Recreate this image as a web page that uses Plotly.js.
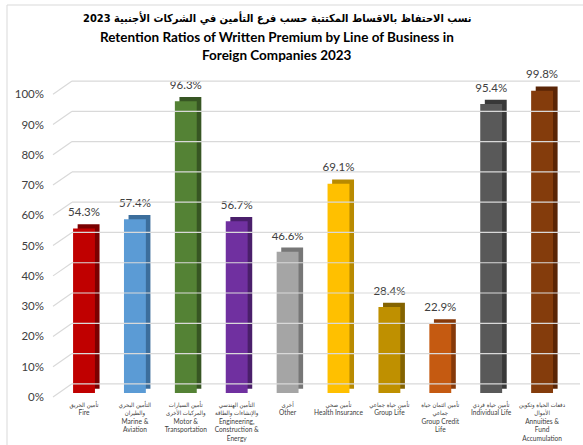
<!DOCTYPE html>
<html>
<head>
<meta charset="utf-8">
<script src="https://cdn.plot.ly/plotly-3.0.1.min.js"></script>
<style>
html,body{margin:0;padding:0;background:#fff;}
#chart{width:583px;height:445px;}
</style>
</head>
<body>
<div id="chart"></div>
<script>
// ---- data ----
const arabicNames = [
  "تأمين الحريق",
  "التأمين البحري<br>والطيران",
  "تأمين السيارات<br>والمركبات الأخرى",
  "التأمين الهندسي<br>والإنشاءات والطاقة",
  "أخرى",
  "تأمين صحي",
  "تأمين حياة جماعي",
  "تأمين ائتمان حياة<br>جماعي",
  "تأمين حياة فردي",
  "دفعات الحياة وتكوين<br>الأموال"
];
const englishNames = [
  "Fire",
  "Marine &<br>Aviation",
  "Motor &<br>Transportation",
  "Engineering,<br>Construction &<br>Energy",
  "Other",
  "Health Insurance",
  "Group Life",
  "Group Credit<br>Life",
  "Individual Life",
  "Annuities &<br>Fund<br>Accumulation"
];
const values = [54.3, 57.4, 96.3, 56.7, 46.6, 69.1, 28.4, 22.9, 95.4, 99.8];
const yTicks = [0, 10, 20, 30, 40, 50, 60, 70, 80, 90, 100];
const titleArabic = "نسب الاحتفاظ بالاقساط المكتتبة حسب فرع التأمين في الشركات الأجنبية 2023";
const titleEnglish1 = "Retention Ratios of Written Premium by Line of Business in";
const titleEnglish2 = "Foreign Companies 2023";

// ---- styles ----
const frontColors = ['#C00000','#5B9BD5','#548235','#7030A0','#A5A5A5','#FFC000','#BF9000','#C55A11','#595959','#843C0C'];
const sideColors  = ['#7A0000','#3C6E9C','#375623','#4A1F6B','#777777','#B88A00','#846300','#86390A','#383838','#5A2506'];

const arabicSpan = s => s.split('<br>').map(t =>
  '<span style="font-family:\'DejaVu Sans Condensed\',\'DejaVu Sans\';font-size:6px">' + t + '</span>').join('<br>');
const tickText = arabicNames.map((a, i) => arabicSpan(a) + '<br>' + englishNames[i]);
const valueLabels = values.map(v => v.toFixed(1) + "%");

const idx = values.map((_, i) => i);
const barW = 0.43, depthX = 0.09, depthY = 1.4, textLift = 2.4;

const yRange  = [-2, 105];       // bars (front face plane)
const y2Range = [-0.66, 106.34]; // tick labels plane
const gridRange = [-5, 102];     // back wall plane

const side = {
  type: 'bar', x: idx, y: values, base: values.map(() => depthY),
  width: barW, offset: -barW / 2 + depthX,
  marker: {color: sideColors, line: {width: 0}},
  hoverinfo: 'skip', showlegend: false
};
const front = {
  type: 'bar', x: idx, y: values,
  width: barW, offset: -barW / 2,
  marker: {color: frontColors, line: {width: 0}},
  hoverinfo: 'skip', showlegend: false
};
const labels = {
  type: 'bar', x: idx, y: values, base: values.map(() => textLift),
  width: barW, offset: -barW / 2,
  marker: {color: 'rgba(0,0,0,0)'},
  text: valueLabels, textposition: 'outside', cliponaxis: false, constraintext: 'none',
  textfont: {family: 'Lato, "DejaVu Sans", sans-serif', size: 11.5, color: '#404040'},
  hoverinfo: 'skip', showlegend: false
};
const axisHolder = {
  type: 'scatter', x: [0], y: [0], yaxis: 'y2', mode: 'markers',
  marker: {opacity: 0}, hoverinfo: 'skip', showlegend: false
};

// grid lines on back wall + depth stubs (computed from tick values)
const shapes = [];
const plotL = 72, plotW = 508, plotB = 399, plotH = 324;
const toPaperX = px => (px - plotL) / plotW;
const toPaperY = px => (plotB - px) / plotH;
yTicks.forEach(v => {
  const yb = (v - gridRange[0]) / (gridRange[1] - gridRange[0]);
  const yf = (v - y2Range[0]) / (y2Range[1] - y2Range[0]);
  shapes.push({type: 'line', xref: 'paper', yref: 'paper', x0: 0, x1: 1, y0: yb, y1: yb,
    line: {color: '#D9D9D9', width: 1.2}});
  shapes.push({type: 'line', xref: 'paper', yref: 'paper', x0: toPaperX(53), x1: 0, y0: yf, y1: yb,
    line: {color: '#D9D9D9', width: 1.2}});
});
// chart border (left and top visible)
shapes.push({type: 'line', xref: 'paper', yref: 'paper', x0: toPaperX(7), x1: toPaperX(7), y0: toPaperY(5), y1: toPaperY(446),
  line: {color: '#D9D9D9', width: 1}});
shapes.push({type: 'line', xref: 'paper', yref: 'paper', x0: toPaperX(7), x1: toPaperX(584), y0: toPaperY(5), y1: toPaperY(5),
  line: {color: '#D9D9D9', width: 1}});

const titleFont = {family: 'Lato, "DejaVu Sans", sans-serif', size: 13.5, color: '#000'};
const annotations = [
  {text: '<b>' + titleArabic + '</b>', y: toPaperY(18),
   font: {family: '"DejaVu Sans Condensed", "DejaVu Sans", sans-serif', size: 11, color: '#000'}},
  {text: '<b>' + titleEnglish1 + '</b>', y: toPaperY(37), font: titleFont},
  {text: '<b>' + titleEnglish2 + '</b>', y: toPaperY(55), font: titleFont}
].map(a => Object.assign({xref: 'paper', yref: 'paper', x: toPaperX(277), xanchor: 'center',
  yanchor: 'middle', showarrow: false}, a));

const layout = {
  width: 583, height: 445,
  margin: {l: 72, r: 3, t: 75, b: 46, pad: 0},
  paper_bgcolor: '#fff', plot_bgcolor: 'rgba(0,0,0,0)',
  barmode: 'overlay',
  font: {family: 'Lato, "DejaVu Sans", sans-serif', color: '#404040'},
  xaxis: {
    range: [-0.236, 9.745], tickmode: 'array', tickvals: idx, ticktext: tickText,
    showgrid: false, zeroline: false, showline: false, ticks: '',
    tickfont: {size: 6.6, color: '#404040'}, tickangle: 0, fixedrange: true
  },
  yaxis: {
    range: yRange, showgrid: false, zeroline: false, showline: false,
    showticklabels: false, ticks: '', fixedrange: true
  },
  yaxis2: {
    range: y2Range, overlaying: 'y', side: 'left', anchor: 'x',
    tickmode: 'array', tickvals: yTicks, ticktext: yTicks.map(v => v + '%'),
    showgrid: false, zeroline: false, showline: false, ticks: '',
    ticklabelstandoff: 27,
    tickfont: {size: 11.5, color: '#404040'}, fixedrange: true
  },
  annotations: annotations,
  shapes: shapes,
  showlegend: false
};

Plotly.newPlot('chart', [axisHolder, side, front, labels], layout, {displayModeBar: false, staticPlot: true});
</script>
</body>
</html>
